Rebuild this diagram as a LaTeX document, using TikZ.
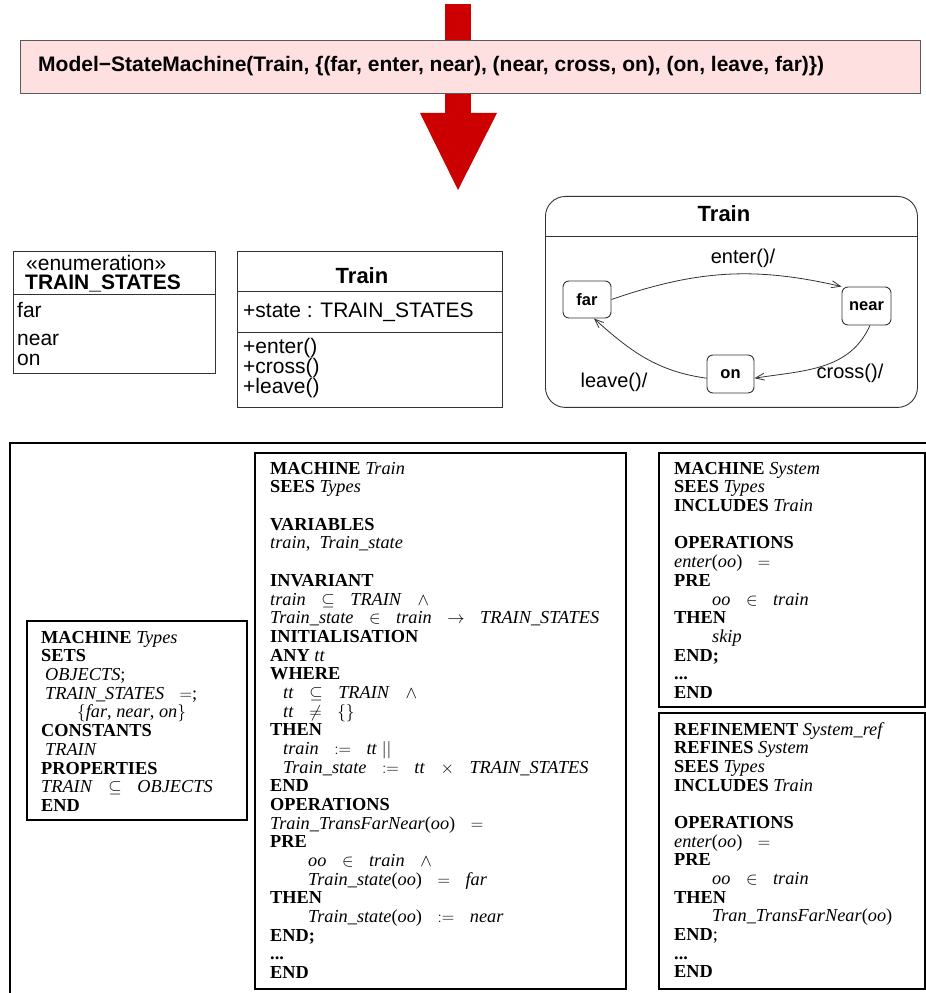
\documentclass[tikz,border=0pt]{standalone}
\usepackage{fontspec}
\setmainfont{Liberation Serif}
\setsansfont{Liberation Sans}
\usetikzlibrary{arrows.meta,positioning,calc}
\definecolor{SMRed}{HTML}{CC0000}
\definecolor{SMPink}{HTML}{FFE0E1}
\definecolor{SMEdge}{HTML}{5A5A5A}
\definecolor{SMLine}{HTML}{333333}
\newcommand{\kw}[1]{\textbf{#1}}
\newcommand{\vr}[1]{\textit{#1}}
\newcommand{\bop}[1]{\hspace{0.85em}$#1$\hspace{0.85em}}
\newcommand{\tab}[1]{\hspace*{#1pt}}

\begin{document}
\begin{tikzpicture}[x=1pt,y=1pt,
    umlbox/.style={draw=SMLine,line width=0.9pt,inner sep=0pt},
    umltext/.style={font=\sffamily\fontsize{21}{21}\selectfont,inner sep=0pt},
    umlbold/.style={font=\sffamily\bfseries\fontsize{21}{21}\selectfont,inner sep=0pt},
    umltitle/.style={font=\sffamily\bfseries\fontsize{22}{22}\selectfont,inner sep=0pt},
    state/.style={draw=SMLine,line width=0.9pt,rounded corners=6pt,fill=white,inner sep=0pt,
      font=\sffamily\bfseries\fontsize{16.5}{16.5}\selectfont},
    trans/.style={-{Straight Barb[length=9pt,width=7pt]},line width=0.8pt,draw=SMLine},
    translabel/.style={font=\sffamily\fontsize{20}{20}\selectfont,inner sep=0pt},
    bbox/.style={draw=black,line width=2.4pt,inner sep=0pt,anchor=north west},
    btext/.style={font=\fontsize{18.3}{18.67}\selectfont,align=left,inner sep=0pt,anchor=north west}
  ]
  \useasboundingbox (0,0) rectangle (926,993);

  % transformation rule
  \fill[SMRed] (445,989) rectangle (471,880);
  \fill[SMRed] (420,880) -- (497,880) -- (458,803) -- cycle;
  \node[draw=SMEdge,fill=SMPink,line width=0.9pt,minimum width=900pt,minimum height=53pt,
    anchor=north west,inner sep=0pt] (rule) at (20,953) {};
  \node[font=\sffamily\bfseries\fontsize{21}{21}\selectfont,anchor=west,inner sep=0pt]
    (ruletxt) at (38,926.5) {Model−StateMachine(Train, \{(far, enter, near), (near, cross, on), (on, leave, far)\})};

  % UML enumeration
  \node[umlbox,minimum width=202pt,minimum height=122pt,anchor=north west] (enum) at (13,742) {};
  \draw[SMLine,line width=0.9pt] ([yshift=-43pt]enum.north west) -- ([yshift=-43pt]enum.north east);
  \node[umltext,anchor=base west] (stereo) at (26,722) {«enumeration»};
  \node[umlbold,anchor=base west] (enumname) at (25,703) {TRAIN\_STATES};
  \node[umltext,anchor=base west] (litfar) at (17,675) {far};
  \node[umltext,anchor=base west] (litnear) at (17,647) {near};
  \node[umltext,anchor=base west] (liton) at (17,627) {on};

  % UML class
  \node[umlbox,minimum width=265pt,minimum height=156pt,anchor=north west] (cls) at (237,742) {};
  \draw[SMLine,line width=0.9pt] ([yshift=-40pt]cls.north west) -- ([yshift=-40pt]cls.north east);
  \draw[SMLine,line width=0.9pt] ([yshift=-81pt]cls.north west) -- ([yshift=-81pt]cls.north east);
  \node[umltitle,anchor=base] (clsname) at (362,709) {Train};
  \node[umltext,anchor=base west] (attr) at (243,675) {+state : TRAIN\_STATES};
  \foreach \m [count=\i] in {enter,cross,leave}
    \node[umltext,anchor=base west] (op\m) at (243,659-20*\i) {+\m()};

  % state machine
  \node[umlbox,rounded corners=20pt,minimum width=372pt,minimum height=211pt,anchor=north west] (sm) at (545,797) {};
  \draw[SMLine,line width=0.9pt] ([yshift=-40pt]sm.north west) -- ([yshift=-40pt]sm.north east);
  \node[umltitle,anchor=base] (smname) at (724,771) {Train};
  \node[state,minimum width=48pt,minimum height=37pt] (sFar) at (587,693.5) {far};
  \node[state,minimum width=49pt,minimum height=38pt] (sNear) at (866.5,687) {near};
  \node[state,minimum width=47pt,minimum height=38pt] (sOn) at (730.5,619) {on};
  \draw[trans] (sFar.east) to[out=19,in=167] (sNear.north west);
  \draw[trans] (sNear.-80) to[out=-114,in=9] (sOn.-10);
  \draw[trans] (sOn.190) to[out=172,in=-42] (sFar.-70);
  \node[translabel] (lEnter) at (743,735) {enter()/};
  \node[translabel] (lCross) at (850,620) {cross()/};
  \node[translabel] (lLeave) at (614,611) {leave()/};

  % B machines
  \draw[line width=2pt] (10,0) -- (10,550) -- (926,550);

  \node[bbox,minimum width=220pt,minimum height=199pt] (mTypes) at (26,373) {};
  \node[btext] (tTypes) at ([shift={(15,-11)}]mTypes.north west) {%
    \kw{MACHINE} \vr{Types}\\
    \kw{SETS}\\
    \tab{4}\vr{OBJECTS};\\
    \tab{4}\vr{TRAIN\_STATES}\hspace{0.85em}$=$;\\
    \tab{36}$\{$\vr{far}, \vr{near}, \vr{on}$\}$\\
    \kw{CONSTANTS}\\
    \tab{4}\vr{TRAIN}\\
    \kw{PROPERTIES}\\
    \vr{TRAIN}\bop{\subseteq}\vr{OBJECTS}\\
    \kw{END}};

  \node[bbox,minimum width=371pt,minimum height=536pt] (mTrain) at (254,541) {};
  \node[btext] (tTrain) at ([shift={(16,-10)}]mTrain.north west) {%
    \kw{MACHINE} \vr{Train}\\
    \kw{SEES} \vr{Types}\\[\baselineskip]
    \kw{VARIABLES}\\
    \vr{train}, \ \vr{Train\_state}\\[\baselineskip]
    \kw{INVARIANT}\\
    \vr{train}\bop{\subseteq}\vr{TRAIN}\bop{\wedge}\\
    \vr{Train\_state}\bop{\in}\vr{train}\bop{\rightarrow}\vr{TRAIN\_STATES}\\
    \kw{INITIALISATION}\\
    \kw{ANY} \vr{tt}\\
    \kw{WHERE}\\
    \tab{13}\vr{tt}\bop{\subseteq}\vr{TRAIN}\bop{\wedge}\\
    \tab{13}\vr{tt}\bop{\neq}$\{\}$\\
    \kw{THEN}\\
    \tab{13}\vr{train}\bop{:=}\vr{tt} $||$\\
    \tab{13}\vr{Train\_state}\bop{:=}\vr{tt}\bop{\times}\vr{TRAIN\_STATES}\\
    \kw{END}\\
    \kw{OPERATIONS}\\
    \vr{Train\_TransFarNear}(\vr{oo})\bop{=}\\
    \kw{PRE}\\
    \tab{38}\vr{oo}\bop{\in}\vr{train}\bop{\wedge}\\
    \tab{38}\vr{Train\_state}(\vr{oo})\bop{=}\vr{far}\\
    \kw{THEN}\\
    \tab{38}\vr{Train\_state}(\vr{oo})\bop{:=}\vr{near}\\
    \kw{END;}\\
    \kw{...}\\
    \kw{END}};

  \node[bbox,minimum width=266pt,minimum height=254pt] (mSystem) at (658,541) {};
  \node[btext] (tSystem) at ([shift={(16,-10)}]mSystem.north west) {%
    \kw{MACHINE} \vr{System}\\
    \kw{SEES} \vr{Types}\\
    \kw{INCLUDES} \vr{Train}\\[\baselineskip]
    \kw{OPERATIONS}\\
    \vr{enter}(\vr{oo})\bop{=}\\
    \kw{PRE}\\
    \tab{38}\vr{oo}\bop{\in}\vr{train}\\
    \kw{THEN}\\
    \tab{38}\vr{skip}\\
    \kw{END;}\\
    \kw{...}\\
    \kw{END}};

  \node[bbox,minimum width=266pt,minimum height=276pt] (mRef) at (658,281) {};
  \node[btext] (tRef) at ([shift={(16,-10)}]mRef.north west) {%
    \kw{REFINEMENT} \vr{System\_ref}\\
    \kw{REFINES} \vr{System}\\
    \kw{SEES} \vr{Types}\\
    \kw{INCLUDES} \vr{Train}\\[\baselineskip]
    \kw{OPERATIONS}\\
    \vr{enter}(\vr{oo})\bop{=}\\
    \kw{PRE}\\
    \tab{38}\vr{oo}\bop{\in}\vr{train}\\
    \kw{THEN}\\
    \tab{38}\vr{Tran\_TransFarNear}(\vr{oo})\\
    \kw{END};\\
    \kw{...}\\
    \kw{END}};
\end{tikzpicture}
\end{document}
